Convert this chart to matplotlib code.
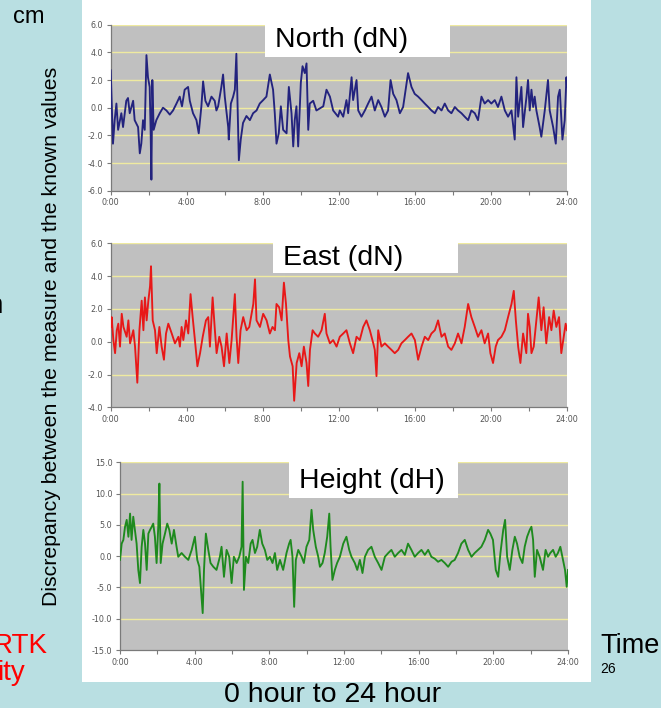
import matplotlib
matplotlib.use("Agg")
import matplotlib.pyplot as plt
from matplotlib.patches import Rectangle

# ---------------- data (hours, cm) ----------------
north_t = [0.0,0.12,0.21,0.30,0.39,0.56,0.65,0.82,0.91,1.0,1.18,1.26,1.44,1.53,1.61,1.70,1.79,1.88,1.96,2.05,
           2.10,2.14,2.19,2.26,2.40,2.58,2.75,2.93,3.11,3.28,3.46,3.63,3.75,3.89,4.07,4.16,4.33,4.51,4.63,4.77,
           4.86,4.98,5.12,5.30,5.47,5.56,5.65,5.82,5.91,6.0,6.18,6.21,6.32,6.44,6.53,6.61,6.67,6.74,6.84,6.96,
           7.14,7.32,7.49,7.67,7.84,8.02,8.19,8.37,8.54,8.63,8.72,8.84,8.95,9.07,9.25,9.37,9.51,9.60,9.68,9.77,
           9.86,10.0,10.09,10.21,10.30,10.39,10.47,10.65,10.82,11.0,11.18,11.35,11.53,11.70,11.96,
           12.05,12.23,12.40,12.49,12.67,12.75,12.93,13.02,13.19,13.37,13.54,13.72,13.89,14.07,14.24,14.42,14.59,
           14.72,14.86,15.03,15.21,15.38,15.64,15.82,15.99,16.17,16.35,16.52,16.70,16.87,17.05,17.22,17.40,17.57,
           17.75,17.92,18.10,18.27,18.45,18.62,18.80,18.97,19.15,19.32,19.50,19.67,19.85,20.02,20.20,20.37,20.55,
           20.73,20.90,21.08,21.25,21.34,21.43,21.60,21.69,21.87,21.95,22.04,22.13,22.22,22.30,22.39,22.56,22.65,
           22.83,23.0,23.09,23.27,23.41,23.53,23.62,23.76,23.88,23.97,24.0]
north_v = [2.7,-2.6,-0.9,0.3,-1.6,-0.4,-1.4,0.5,0.7,-0.4,0.5,-0.9,-1.4,-3.3,-2.6,-0.9,-1.6,3.8,2.2,1.5,
           -1.6,-5.2,2.0,-1.6,-0.9,-0.4,0.0,-0.2,-0.5,-0.2,0.3,0.8,0.1,1.3,1.5,0.5,-0.4,-0.9,-1.85,0.1,
           1.9,0.5,0.1,0.8,0.5,-0.2,0.1,1.5,2.4,0.8,-1.4,-2.3,0.3,0.8,1.3,3.9,0.3,-3.8,-2.3,-1.1,
           -0.6,-0.9,-0.4,-0.2,0.3,0.55,0.8,2.4,1.3,-0.4,-2.6,-1.85,0.1,-1.6,-1.85,1.5,-0.4,-2.8,-0.9,0.1,
           -2.8,1.8,3.0,2.5,3.2,-1.6,0.3,0.5,-0.2,-0.05,0.1,1.3,0.8,-0.2,-0.65,
           -0.2,-0.65,0.55,-0.4,2.2,0.55,2.0,-0.2,-0.65,-0.2,0.3,0.8,-0.2,0.55,0.05,-0.65,-0.2,
           2.0,1.0,0.55,-0.4,0.05,2.5,1.5,1.0,0.8,0.55,0.3,0.05,-0.2,-0.4,0.05,-0.2,0.3,
           -0.2,-0.4,0.05,-0.2,-0.4,-0.65,-0.9,-0.2,-0.4,-0.9,0.8,0.3,0.55,0.3,0.55,0.05,0.8,
           -0.2,-0.65,-0.2,-2.3,2.2,-0.65,1.5,-1.4,0.8,2.0,-0.2,1.3,0.05,0.8,-0.2,-1.4,-2.1,
           -0.2,2.0,-0.2,-1.4,-2.6,0.8,1.3,-2.3,-0.9,2.2,1.5]

east_t = [0.0,0.05,0.14,0.23,0.32,0.40,0.49,0.58,0.67,0.84,0.93,1.02,1.19,1.28,1.40,1.51,1.63,1.72,1.80,1.89,
          1.98,2.07,2.12,2.21,2.33,2.42,2.56,2.68,2.80,2.91,3.03,3.21,3.38,3.56,3.64,3.73,3.82,3.96,4.08,4.20,
          4.31,4.43,4.56,4.70,4.84,5.01,5.13,5.22,5.36,5.48,5.57,5.71,5.83,5.96,6.10,6.24,6.36,6.53,6.62,6.71,
          6.83,6.97,7.15,7.29,7.41,7.50,7.59,7.67,7.85,8.02,8.20,8.37,8.51,8.64,8.72,8.86,8.99,9.11,9.22,9.34,
          9.43,9.57,9.65,9.78,9.92,10.04,10.16,10.30,10.39,10.48,10.62,10.74,10.91,11.09,11.26,11.35,11.53,11.70,
          11.88,12.05,12.23,12.40,12.58,12.75,12.93,13.10,13.28,13.45,13.63,13.81,13.89,13.98,14.07,14.24,14.42,
          14.59,14.77,14.94,15.12,15.29,15.47,15.64,15.82,16.0,16.17,16.35,16.52,16.70,16.87,17.05,17.22,17.40,
          17.57,17.75,17.92,18.10,18.27,18.45,18.62,18.80,18.97,19.15,19.32,19.50,19.67,19.85,19.97,20.11,20.25,
          20.37,20.55,20.73,20.90,21.08,21.20,21.31,21.43,21.55,21.69,21.86,21.95,22.04,22.13,22.25,22.39,22.51,
          22.65,22.77,22.91,23.06,23.18,23.30,23.44,23.58,23.70,23.83,23.93,24.0]
east_v = [0.9,1.5,0.1,-0.7,0.7,1.1,-0.3,1.7,0.9,0.3,1.3,-0.1,0.7,-0.3,-2.5,0.7,2.5,0.7,2.7,1.3,
          2.5,3.4,4.6,1.3,0.7,-0.7,0.9,-0.3,-1.1,0.5,1.1,0.5,-0.1,0.3,-0.3,0.9,0.1,1.3,0.5,2.9,
          1.5,0.1,-1.5,-0.7,0.3,1.3,1.5,-0.3,2.7,0.7,-0.7,0.3,-0.3,-1.5,0.5,-1.3,0.1,2.9,0.3,-1.3,
          0.7,1.5,0.7,0.9,1.7,2.3,3.8,1.3,0.9,1.7,1.3,0.5,0.9,0.7,2.3,2.1,1.3,3.6,2.3,0.1,
          -0.9,-1.5,-3.6,-1.3,-0.7,-1.5,-0.3,-1.3,-2.7,-0.5,0.7,0.5,0.3,0.7,1.7,0.5,-0.1,0.1,
          -0.3,0.3,0.5,0.7,-0.1,-0.7,0.3,0.1,0.9,1.3,0.7,-0.1,-0.5,-2.1,0.7,-0.3,-0.1,
          -0.3,-0.5,-0.7,-0.5,-0.1,0.1,0.3,0.5,0.1,-1.1,-0.3,0.3,0.1,0.5,0.7,1.3,0.3,
          0.5,-0.3,-0.5,-0.1,0.5,-0.1,0.9,2.3,1.5,0.9,0.3,0.7,-0.1,0.5,-0.7,-1.3,-0.3,
          0.1,0.3,0.7,1.5,2.3,3.1,1.3,-0.3,-1.3,0.5,-0.7,1.7,0.9,-0.7,-0.3,1.3,2.7,
          0.7,2.1,-0.1,1.5,0.7,1.9,0.9,1.5,-0.7,0.3,1.1,0.7]

height_t = [0.0,0.09,0.18,0.27,0.36,0.45,0.54,0.62,0.71,0.80,0.89,0.98,1.07,1.16,1.25,1.34,1.43,1.52,1.61,1.70,
            1.78,1.87,1.96,2.05,2.11,2.18,2.28,2.41,2.53,2.64,2.77,2.89,3.03,3.12,3.30,3.48,3.66,3.84,4.01,4.14,
            4.25,4.37,4.43,4.50,4.60,4.73,4.85,5.0,5.17,5.35,5.44,5.57,5.71,5.85,5.98,6.10,6.25,6.39,6.51,6.57,
            6.64,6.75,6.87,7.0,7.10,7.23,7.35,7.49,7.62,7.76,7.89,8.03,8.17,8.30,8.42,8.57,8.74,8.92,9.06,9.14,
            9.24,9.33,9.42,9.55,9.73,9.85,9.99,10.14,10.26,10.35,10.49,10.62,10.71,10.85,10.97,11.10,11.21,11.28,
            11.38,11.51,11.63,11.78,11.96,12.13,12.28,12.40,12.58,12.71,12.85,12.99,13.12,13.29,13.47,13.65,13.83,
            14.01,14.19,14.37,14.54,14.72,14.90,15.08,15.26,15.43,15.61,15.79,15.97,16.15,16.33,16.51,16.68,16.86,
            17.04,17.22,17.40,17.58,17.76,17.93,18.11,18.29,18.47,18.65,18.83,19.0,19.18,19.36,19.54,19.72,19.84,
            19.98,20.13,20.26,20.38,20.53,20.63,20.74,20.88,21.02,21.15,21.27,21.41,21.56,21.68,21.81,21.95,22.04,
            22.13,22.22,22.34,22.48,22.66,22.80,22.93,23.05,23.20,23.34,23.46,23.59,23.70,23.84,23.93,24.0]
height_v = [-0.6,2.0,2.6,4.7,5.8,3.1,6.8,2.6,6.3,4.2,2.0,-2.2,-4.3,1.5,4.2,2.0,-2.2,3.6,4.2,4.7,
            5.2,3.1,-1.1,4.7,11.6,-1.1,2.0,3.6,5.2,4.2,2.0,4.2,1.5,-0.1,0.5,-0.1,-0.6,1.0,3.1,-0.6,
            -1.7,-6.5,-9.1,-2.2,3.6,1.0,-1.1,-1.7,-2.2,-0.1,1.5,-3.3,1.0,-0.1,-4.3,-0.1,-1.1,-0.1,1.5,11.9,
            -5.4,-0.1,-1.1,2.0,2.6,0.5,1.5,4.2,2.0,1.0,-0.6,-0.1,-1.1,0.5,-2.2,-0.6,-2.2,0.5,2.0,2.6,
            -0.1,-8.1,-0.6,1.0,-0.1,-1.1,1.5,2.6,7.4,4.2,1.5,-0.1,-1.7,-1.1,0.5,3.1,6.8,1.5,
            -3.8,-2.2,-1.1,-0.1,2.0,3.1,1.0,-0.1,-1.1,-2.2,-0.6,-2.7,-0.1,1.0,1.5,-0.1,-1.1,
            -2.2,-0.1,0.5,1.0,-0.1,0.5,1.0,0.2,2.0,1.0,-0.1,0.5,1.0,0.2,1.0,-0.1,-0.4,
            -0.9,-0.6,-1.1,-1.7,-0.9,-0.6,0.5,2.0,2.6,1.0,-0.1,0.5,1.0,1.5,2.6,4.2,3.6,
            2.6,-2.2,-3.3,0.5,4.2,5.8,-0.1,-2.2,1.0,3.1,2.0,-0.1,-1.1,1.5,3.1,4.2,4.7,
            2.6,-3.3,1.0,-0.1,-2.2,1.0,-0.1,0.5,1.0,-0.1,0.5,1.5,-0.1,-2.2,-4.9,-2.2]

panel_titles = ["North (dN)", "East (dN)", "Height (dH)"]
y_ticks = [[-6, -4, -2, 0, 2, 4, 6], [-4, -2, 0, 2, 4, 6], [-15, -10, -5, 0, 5, 10, 15]]
x_major = [0, 4, 8, 12, 16, 20, 24]
x_minor = [2, 6, 10, 14, 18, 22]
x_labels = ["0:00", "4:00", "8:00", "12:00", "16:00", "20:00", "24:00"]
ylabel_text = "Discrepancy between the measure and the known values"

# ---------------- figure ----------------
W, H = 661, 708
BG = "#B9DFE2"
fig = plt.figure(figsize=(W / 100, H / 100), dpi=100, facecolor=BG)


def fx(x):
    return x / W


def fy(y):
    return 1 - y / H


SANS = ["Liberation Sans", "DejaVu Sans"]

# white slide panel
fig.patches.append(Rectangle((fx(82), fy(682)), fx(591) - fx(82), fy(0) - fy(682),
                             transform=fig.transFigure, facecolor="white",
                             edgecolor="none", zorder=-5))

# axes geometry in pixels: left, right, top, bottom
geo = [(110.7, 567, 24.7, 190.7), (110.7, 567, 243.3, 407.3), (120, 568, 462.3, 650)]
series = [(north_t, north_v, "#23237E"), (east_t, east_v, "#E81818"), (height_t, height_v, "#1E8A1E")]
boxes = [(265, 450, 21, 57), (273, 458, 241, 273), (289, 458, 461, 498)]

for i in range(3):
    l, r, t, b = geo[i]
    ax = fig.add_axes([fx(l), fy(b), fx(r) - fx(l), fy(t) - fy(b)])
    ax.set_facecolor("#C0C0C0")
    ts, vs, col = series[i]
    yt = y_ticks[i]
    for g in yt[1:]:
        ax.axhline(g, color="#EFEAA0", lw=1.0, zorder=1)
    ax.plot(ts, vs, color=col, lw=1.35, zorder=3)
    ax.set_xlim(0, 24)
    ax.set_ylim(yt[0], yt[-1])
    ax.set_yticks(yt)
    ax.set_yticklabels(["%.1f" % v for v in yt])
    ax.set_xticks(x_major)
    ax.set_xticks(x_minor, minor=True)
    ax.set_xticklabels(x_labels)
    for s in ("top", "right"):
        ax.spines[s].set_visible(False)
    for s in ("left", "bottom"):
        ax.spines[s].set_color("#7A7A7A")
        ax.spines[s].set_linewidth(0.9)
    ax.tick_params(which="both", direction="out", length=3, width=0.8, color="#7A7A7A")
    ax.tick_params(axis="both", labelsize=5.8, labelcolor="#555555", pad=2.5)
    for lab in ax.get_xticklabels() + ax.get_yticklabels():
        lab.set_family("DejaVu Sans")

    bl, br, bt, bb = boxes[i]
    fig.patches.append(Rectangle((fx(bl), fy(bb)), fx(br) - fx(bl), fy(bt) - fy(bb),
                                 transform=fig.transFigure, facecolor="white",
                                 edgecolor="none", zorder=5))
    fig.text(fx(bl + 10), fy((bt + bb) / 2 + 1), panel_titles[i], ha="left", va="center",
             fontsize=20.5, family=SANS, color="black", zorder=6)

# slide texts
fig.text(fx(52), fy(336), ylabel_text, rotation=90, ha="center", va="center",
         fontsize=15.3, family=SANS, color="black")
fig.text(fx(29), fy(23), "cm", ha="center", va="baseline", fontsize=17, family=SANS, color="black")
fig.text(fx(3), fy(313), "n", ha="right", va="baseline", fontsize=20, family=SANS, color="black")
fig.text(fx(48), fy(653), "RTK", ha="right", va="baseline", fontsize=20, family=SANS, color="#FF0000")
fig.text(fx(25), fy(680), "ity", ha="right", va="baseline", fontsize=20, family=SANS, color="#FF0000")
fig.text(fx(600), fy(653), "Time", ha="left", va="baseline", fontsize=19.5, family=SANS, color="black")
fig.text(fx(600), fy(673), "26", ha="left", va="baseline", fontsize=10, family=SANS, color="black")
fig.text(fx(333), fy(702), "0 hour to 24 hour", ha="center", va="baseline", fontsize=20.5,
         family=SANS, color="black")

fig.savefig("out.png", dpi=100, facecolor=BG)
